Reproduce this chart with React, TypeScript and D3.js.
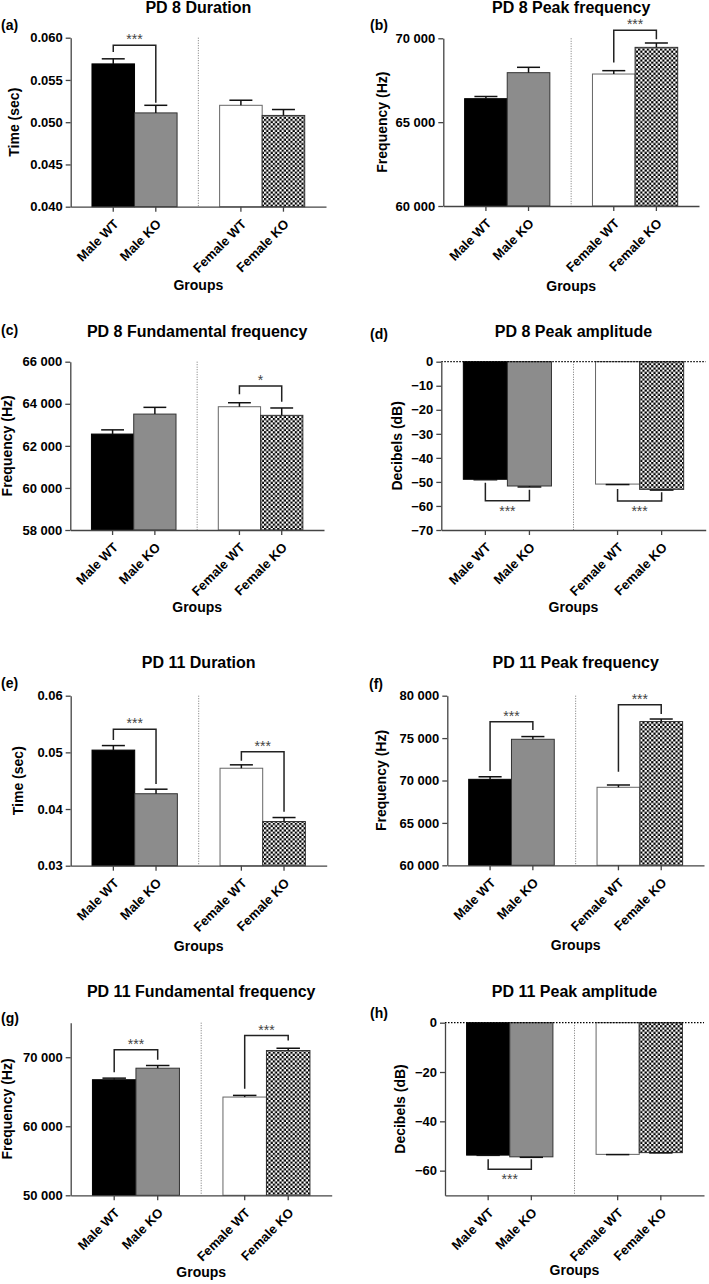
import React, { useRef, useEffect } from 'react';
import * as d3 from 'd3';

// groups on the x axis (a blank slot sits between the sexes)
const groups = ['Male WT', 'Male KO', 'Female WT', 'Female KO'];
const slots = ['Male WT', 'Male KO', 'gap', 'Female WT', 'Female KO'];

// PD 8
const pd8DurationMean = [0.0569, 0.0511, 0.052, 0.0508];
const pd8DurationSem = [0.0006, 0.0009, 0.0006, 0.0007];
const pd8DurationTicks = [0.04, 0.045, 0.05, 0.055, 0.06];

const pd8PeakFreqMean = [66400, 67950, 67870, 69460];
const pd8PeakFreqSem = [130, 320, 200, 260];
const pd8PeakFreqTicks = [60000, 65000, 70000];

const pd8FundFreqMean = [62560, 63510, 63860, 63450];
const pd8FundFreqSem = [200, 320, 190, 350];
const pd8FundFreqTicks = [58000, 60000, 62000, 64000, 66000];

const pd8AmpMean = [-48.9, -51.7, -50.9, -53.1];
const pd8AmpSem = [0.2, 0.4, 0.2, 0.3];
const pd8AmpTicks = [0, -10, -20, -30, -40, -50, -60, -70];

// PD 11
const pd11DurationMean = [0.0504, 0.0427, 0.0472, 0.0378];
const pd11DurationSem = [0.0008, 0.0008, 0.0006, 0.0007];
const pd11DurationTicks = [0.03, 0.04, 0.05, 0.06];

const pd11PeakFreqMean = [70140, 74860, 69200, 76950];
const pd11PeakFreqSem = [300, 320, 270, 300];
const pd11PeakFreqTicks = [60000, 65000, 70000, 75000, 80000];

const pd11FundFreqMean = [66740, 68410, 64230, 70970];
const pd11FundFreqSem = [230, 390, 240, 330];
const pd11FundFreqTicks = [50000, 60000, 70000];

const pd11AmpMean = [-53.7, -54.4, -53.4, -52.7];
const pd11AmpSem = [0.1, 0.2, 0.1, 0.1];
const pd11AmpTicks = [0, -20, -40, -60];

// significance brackets: bar indices, leg ends and bar level in data units
interface Sig { from: number; to: number; legA: number; level: number; legB: number; label: string }
const pd8DurationSig: Sig[] = [{ from: 0, to: 1, legA: 0.0583, level: 0.0591, legB: 0.0523, label: '***' }];
const pd8PeakFreqSig: Sig[] = [{ from: 2, to: 3, legA: 68550, level: 70480, legB: 69940, label: '***' }];
const pd8FundFreqSig: Sig[] = [{ from: 2, to: 3, legA: 64450, level: 64845, legB: 64100, label: '*' }];
const pd8AmpSig: Sig[] = [
    { from: 0, to: 1, legA: -50.3, level: -57.8, legB: -53.3, label: '***' },
    { from: 2, to: 3, legA: -52.9, level: -57.9, legB: -54.3, label: '***' },
];
const pd11DurationSig: Sig[] = [
    { from: 0, to: 1, legA: 0.0522, level: 0.0541, legB: 0.0444, label: '***' },
    { from: 2, to: 3, legA: 0.0485, level: 0.0501, legB: 0.0395, label: '***' },
];
const pd11PeakFreqSig: Sig[] = [
    { from: 0, to: 1, legA: 71120, level: 76935, legB: 75955, label: '***' },
    { from: 2, to: 3, legA: 71040, level: 78940, legB: 77840, label: '***' },
];
const pd11FundFreqSig: Sig[] = [
    { from: 0, to: 1, legA: 67835, level: 71070, legB: 69625, label: '***' },
    { from: 2, to: 3, legA: 65440, level: 73130, legB: 72410, label: '***' },
];
const pd11AmpSig: Sig[] = [{ from: 0, to: 1, legA: -55.4, level: -59.4, legB: -55.4, label: '***' }];

const fills = ['#000000', '#8c8c8c', '#ffffff', 'url(#checker)'];
const strokes = ['#000000', '#333333', '#666666', '#333333'];

const FONT = '"Liberation Sans", Arial, Helvetica, sans-serif';

const spaced = (v: number) => d3.format(',')(v).replace(/,/g, ' ');

const panels = [
    { letter: '(a)', title: 'PD 8 Duration', yLabel: 'Time (sec)', mean: pd8DurationMean, sem: pd8DurationSem,
      domain: [0.04, 0.06], ticks: pd8DurationTicks, fmt: d3.format('.3f'), sig: pd8DurationSig,
      x0: 70.7, x1: 326, y0: 37.7, y1: 206.7, titleY: 12.5, lx: 1, ly: 30, yTitleX: 14, groupsY: 290 },
    { letter: '(b)', title: 'PD 8 Peak frequency', yLabel: 'Frequency (Hz)', mean: pd8PeakFreqMean, sem: pd8PeakFreqSem,
      domain: [60000, 70000], ticks: pd8PeakFreqTicks, fmt: spaced, sig: pd8PeakFreqSig,
      x0: 443.3, x1: 699, y0: 38.3, y1: 206, titleY: 12.5, lx: 370, ly: 30, yTitleX: 382, groupsY: 291 },
    { letter: '(c)', title: 'PD 8 Fundamental frequency', yLabel: 'Frequency (Hz)', mean: pd8FundFreqMean, sem: pd8FundFreqSem,
      domain: [58000, 66000], ticks: pd8FundFreqTicks, fmt: spaced, sig: pd8FundFreqSig,
      x0: 70.3, x1: 324, y0: 361.7, y1: 530, titleY: 337, lx: 1, ly: 335, yTitleX: 7, groupsY: 612 },
    { letter: '(d)', title: 'PD 8 Peak amplitude', yLabel: 'Decibels (dB)', mean: pd8AmpMean, sem: pd8AmpSem,
      domain: [-70, 0], ticks: pd8AmpTicks, fmt: d3.format('d'), sig: pd8AmpSig,
      x0: 441.3, x1: 705.7, y0: 361.7, y1: 530, titleY: 337, lx: 370, ly: 339, yTitleX: 397, groupsY: 612 },
    { letter: '(e)', title: 'PD 11 Duration', yLabel: 'Time (sec)', mean: pd11DurationMean, sem: pd11DurationSem,
      domain: [0.03, 0.06], ticks: pd11DurationTicks, fmt: d3.format('.2f'), sig: pd11DurationSig,
      x0: 70.7, x1: 326.7, y0: 695.7, y1: 865.7, titleY: 668, lx: 1, ly: 688, yTitleX: 18, groupsY: 951 },
    { letter: '(f)', title: 'PD 11 Peak frequency', yLabel: 'Frequency (Hz)', mean: pd11PeakFreqMean, sem: pd11PeakFreqSem,
      domain: [60000, 80000], ticks: pd11PeakFreqTicks, fmt: spaced, sig: pd11PeakFreqSig,
      x0: 447.3, x1: 704, y0: 695.7, y1: 865.3, titleY: 668, lx: 369, ly: 689, yTitleX: 381, groupsY: 950 },
    { letter: '(g)', title: 'PD 11 Fundamental frequency', yLabel: 'Frequency (Hz)', mean: pd11FundFreqMean, sem: pd11FundFreqSem,
      domain: [50000, 75000], ticks: pd11FundFreqTicks, fmt: spaced, sig: pd11FundFreqSig,
      x0: 70.7, x1: 331.7, y0: 1022.7, y1: 1195.3, titleY: 997, lx: 1, ly: 1023, yTitleX: 7.5, groupsY: 1277 },
    { letter: '(h)', title: 'PD 11 Peak amplitude', yLabel: 'Decibels (dB)', mean: pd11AmpMean, sem: pd11AmpSem,
      domain: [-70, 0], ticks: pd11AmpTicks, fmt: d3.format('d'), sig: pd11AmpSig,
      x0: 445, x1: 704, y0: 1022.7, y1: 1195.3, titleY: 997, lx: 370, ly: 1018, yTitleX: 400, groupsY: 1275 },
];

const App: React.FC = () => {
    const svgRef = useRef<SVGSVGElement | null>(null);

    useEffect(() => {
        if (!svgRef.current) return;
        const svg = d3.select(svgRef.current);
        svg.selectAll('*').remove();

        const defs = svg.append('defs');
        const pat = defs.append('pattern')
            .attr('id', 'checker')
            .attr('patternUnits', 'userSpaceOnUse')
            .attr('width', 4.4)
            .attr('height', 4.4);
        pat.append('rect').attr('width', 4.4).attr('height', 4.4).attr('fill', '#fff');
        pat.append('rect').attr('width', 2.2).attr('height', 2.2).attr('fill', '#000');
        pat.append('rect').attr('x', 2.2).attr('y', 2.2).attr('width', 2.2).attr('height', 2.2).attr('fill', '#000');

        panels.forEach(p => {
            const g = svg.append('g').style('font-family', FONT);

            const x = d3.scaleBand<string>()
                .domain(slots)
                .range([p.x0, p.x1])
                .paddingInner(0)
                .paddingOuter(0.5);
            const y = d3.scaleLinear()
                .domain(p.domain)
                .range([p.y1, p.y0]);
            const bw = x.bandwidth();
            const negative = p.domain[1] <= 0;
            const base = negative ? 0 : p.domain[0];

            // title + panel letter
            g.append('text')
                .attr('x', (p.x0 + p.x1) / 2)
                .attr('y', p.titleY)
                .attr('text-anchor', 'middle')
                .attr('font-size', 16)
                .attr('font-weight', 'bold')
                .text(p.title);
            g.append('text')
                .attr('x', p.lx)
                .attr('y', p.ly)
                .attr('font-size', 14)
                .attr('font-weight', 'bold')
                .text(p.letter);

            // separator between sexes
            g.append('line')
                .attr('x1', (x('gap') ?? 0) + bw / 2)
                .attr('x2', (x('gap') ?? 0) + bw / 2)
                .attr('y1', p.y0)
                .attr('y2', p.y1)
                .attr('stroke', '#777')
                .attr('stroke-width', 1)
                .attr('stroke-dasharray', '1,1.5');

            // bars
            groups.forEach((grp, i) => {
                const bx = x(grp) ?? 0;
                const yv = y(p.mean[i]);
                const yb = y(base);
                g.append('rect')
                    .attr('x', bx)
                    .attr('y', Math.min(yv, yb))
                    .attr('width', bw)
                    .attr('height', Math.abs(yb - yv))
                    .attr('fill', fills[i])
                    .attr('stroke', strokes[i])
                    .attr('stroke-width', 1);

                const sign = p.mean[i] >= base ? 1 : -1;
                const ye = y(p.mean[i] + sign * p.sem[i]);
                const cx = bx + bw / 2;
                g.append('line')
                    .attr('x1', cx).attr('x2', cx)
                    .attr('y1', yv).attr('y2', ye)
                    .attr('stroke', '#111').attr('stroke-width', 1.5);
                g.append('line')
                    .attr('x1', cx - bw * 0.27).attr('x2', cx + bw * 0.27)
                    .attr('y1', ye).attr('y2', ye)
                    .attr('stroke', '#111').attr('stroke-width', 1.5);
            });

            // zero line for the amplitude panels
            if (negative) {
                g.append('line')
                    .attr('x1', p.x0).attr('x2', p.x1)
                    .attr('y1', y(0)).attr('y2', y(0))
                    .attr('stroke', '#000')
                    .attr('stroke-width', 1.3)
                    .attr('stroke-dasharray', '1.5,1.5');
            }

            // axes
            const yAxis = g.append('g')
                .attr('transform', `translate(${p.x0},0)`)
                .call(d3.axisLeft(y).tickValues(p.ticks).tickFormat(v => p.fmt(+v)).tickSize(5).tickSizeOuter(0).tickPadding(3));
            const xAxis = g.append('g')
                .attr('transform', `translate(0,${p.y1})`)
                .call(d3.axisBottom(x).tickValues(groups).tickSize(5).tickSizeOuter(0).tickFormat(() => ''));
            [yAxis, xAxis].forEach(ax => {
                ax.select('.domain').attr('stroke', '#444').attr('stroke-width', 1.3);
                ax.selectAll('.tick line').attr('stroke', '#444').attr('stroke-width', 1.3);
            });
            yAxis.selectAll('text')
                .attr('font-family', FONT)
                .attr('font-size', 13)
                .attr('font-weight', 'bold')
                .attr('fill', '#000');

            groups.forEach(grp => {
                const cx = (x(grp) ?? 0) + bw / 2;
                g.append('text')
                    .attr('transform', `translate(${cx + 3},${p.y1 + 15}) rotate(-45)`)
                    .attr('text-anchor', 'end')
                    .attr('dy', '0.35em')
                    .attr('font-size', 13)
                    .attr('font-weight', 'bold')
                    .text(grp);
            });

            // axis titles
            g.append('text')
                .attr('transform', `translate(${p.yTitleX},${(p.y0 + p.y1) / 2}) rotate(-90)`)
                .attr('text-anchor', 'middle')
                .attr('dy', '0.35em')
                .attr('font-size', 14)
                .attr('font-weight', 'bold')
                .text(p.yLabel);
            g.append('text')
                .attr('x', (p.x0 + p.x1) / 2)
                .attr('y', p.groupsY)
                .attr('text-anchor', 'middle')
                .attr('font-size', 14)
                .attr('font-weight', 'bold')
                .text('Groups');

            // significance brackets
            p.sig.forEach(s => {
                const xa = (x(groups[s.from]) ?? 0) + bw / 2;
                const xb = (x(groups[s.to]) ?? 0) + bw / 2;
                const path = d3.path();
                path.moveTo(xa, y(s.legA));
                path.lineTo(xa, y(s.level));
                path.lineTo(xb, y(s.level));
                path.lineTo(xb, y(s.legB));
                g.append('path')
                    .attr('d', path.toString())
                    .attr('fill', 'none')
                    .attr('stroke', '#222')
                    .attr('stroke-width', 1.5);
                const below = s.level < s.legA;
                g.append('text')
                    .attr('x', (xa + xb) / 2)
                    .attr('y', below ? y(s.level) + 15 : y(s.level) - 1)
                    .attr('text-anchor', 'middle')
                    .attr('font-size', 14)
                    .attr('fill', '#444')
                    .text(s.label);
            });
        });
    }, []);

    return (
        <svg
            ref={svgRef}
            width={709}
            height={1284}
            style={{ position: 'absolute', left: 0, top: 0, display: 'block', background: '#fff' }}
        />
    );
};

export default App;
